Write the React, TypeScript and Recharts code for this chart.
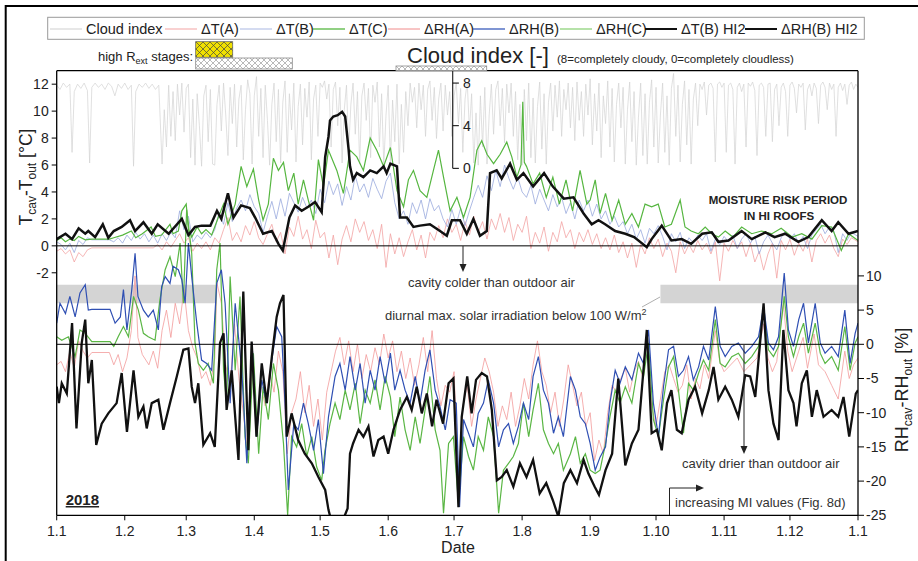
import { LineChart, Line, XAxis, YAxis, ReferenceLine, ReferenceArea } from 'recharts'

type Pt = [number, number]

const FONT = '"Liberation Sans", Arial, Helvetica, sans-serif'

// x axis: day of year 2018, ticks at month starts
const monthStarts = [0, 31, 59, 90, 120, 151, 181, 212, 243, 273, 304, 334, 365]
const monthLabels = ['1.1', '1.2', '1.3', '1.4', '1.5', '1.6', '1.7', '1.8', '1.9', '1.10', '1.11', '1.12', '1.1']
const tTicks = [-2, 0, 2, 4, 6, 8, 10, 12]
const rhTicks = [-25, -20, -15, -10, -5, 0, 5, 10]
const cloudTicks = [0, 4, 8]

// cloud index [-] (own scale, 0..8)
const cloudIndex: Pt[] = [
  [0, 7.8], [1.5, 7.4], [3, 8], [4.5, 7.6], [6, 7.9], [7, 1.5], [8, 7.2], [9.5, 7.9], [11, 7.5], [12.5, 8], [14, 7.3], [15, 0.5], [16, 7.6], [17.5, 8],
  [19, 7.6], [20.5, 7.9], [22, 7.4], [23.5, 8], [25, 7.7], [26.5, 6.8], [28, 7.9], [29.5, 7.5], [31, 8], [32.5, 7.4], [34, 7.8], [35, 0.2], [36, 7.2],
  [37.5, 7.9], [39, 7.6], [40.5, 8], [42, 7.5], [43.5, 7.9], [45, 7.4], [46.5, 7.8], [48, 0.4], [49, 5.5], [50, 2], [51, 7.8], [52, 3], [53, 7.2],
  [54, 2.6], [55, 7.9], [56, 5], [57, 8], [58, 3.4], [59, 7.5], [60, 7.9], [61, 1], [62, 6.5], [63, 0.3], [64, 7], [65, 4], [66, 0.2], [67, 6.8],
  [68, 7.8], [69, 2.5], [70, 7.4], [71, 0.4], [72, 0.3], [73, 6], [74, 7.8], [75, 3.5], [76, 8], [77, 5], [78, 1.2], [79, 7.6], [80, 4.2], [81, 7.9],
  [82, 2], [83, 6.5], [84, 7.8], [85, 0.8], [86, 5.5], [87, 8.3], [88, 7], [89, 0.4], [90, 6.8], [91, 8.6], [92, 3], [93, 7.5], [94, 1], [95, 7.8],
  [96, 4.5], [97, 0.3], [98, 6], [99, 8], [100, 2.5], [101, 7.4], [102, 0.5], [103, 6.2], [104, 8.2], [105, 1.5], [106, 7], [107, 3.6], [108, 8],
  [109, 0.6], [110, 5.8], [111, 7.9], [112, 2.2], [113, 7.5], [114, 4.8], [115, 8.1], [116, 0.8], [117, 6.5], [118, 7.8], [119, 3], [120, 8],
  [121, 7.6], [122, 8.2], [123, 6.5], [124, 7.9], [125, 2], [126, 7.4], [127, 8.1], [128, 4], [129, 7.6], [130, 0.5], [131, 5.5], [132, 7.8],
  [133, 1.8], [134, 6], [135, 8], [136, 3.2], [137, 7.2], [138, 0.4], [139, 6.8], [140, 8], [141, 4.5], [142, 7.5], [143, 1], [144, 7.8], [145, 6.2],
  [146, 8.1], [147, 2], [148, 7], [149, 0.3], [150, 5], [151, 7.8], [152, 0.6], [153, 6.4], [154, 2.5], [155, 7.9], [156, 0.4], [157, 6], [158, 1.5],
  [159, 7.2], [160, 4], [161, 8], [162, 6.2], [163, 7.6], [164, 3.8], [165, 8], [166, 5.5], [167, 7.8], [168, 3], [169, 7.4], [170, 8.2], [171, 4.5],
  [172, 7.6], [173, 2.8], [174, 6.5], [175, 8], [176, 3.5], [177, 7.8], [178, 5], [179, 7.2], [180, 3], [181, 6.8], [182, 8], [183, 4.2], [184, 7.5],
  [185, 1.5], [186, 6.5], [187, 8.1], [188, 3.5], [189, 7], [190, 0.5], [191, 5.2], [192, 0.3], [193, 6.8], [194, 2], [195, 7.6], [196, 0.4], [197, 5],
  [198, 7.9], [199, 3.2], [200, 7.4], [201, 8.2], [202, 4], [203, 7.5], [204, 2.4], [205, 7.9], [206, 5.2], [207, 8], [208, 3], [209, 7.2], [210, 0.8],
  [211, 6], [212, 0.3], [213, 7.4], [214, 2.6], [215, 8], [216, 1], [217, 6.6], [218, 0.5], [219, 5.8], [220, 8.1], [221, 1.8], [222, 7], [223, 0.4],
  [224, 6.2], [225, 8], [226, 3.5], [227, 7.8], [228, 4.8], [229, 8.2], [230, 3], [231, 7.4], [232, 5.5], [233, 8], [234, 3.8], [235, 7.6], [236, 2.6],
  [237, 8.1], [238, 4.5], [239, 7.2], [240, 3], [241, 7.9], [242, 5], [243, 8.4], [244, 2.2], [245, 7], [246, 3.5], [247, 8], [248, 1], [249, 6.8],
  [250, 4.2], [251, 8.2], [252, 2], [253, 7.5], [254, 0.6], [255, 6], [256, 8], [257, 3.8], [258, 7.6], [259, 0.4], [260, 5.5], [261, 8.1], [262, 2.5],
  [263, 7.2], [264, 0.3], [265, 4.8], [266, 8], [267, 1.2], [268, 7], [269, 0.4], [270, 6.2], [271, 8.3], [272, 2], [273, 7.6], [274, 0.5], [275, 5],
  [276, 8], [277, 1.5], [278, 6.8], [279, 0.3], [280, 7.5], [281, 8.9], [282, 3], [283, 7.8], [284, 0.6], [285, 6], [286, 8.2], [287, 2.2], [288, 7.4],
  [289, 0.4], [290, 6.5], [291, 8], [292, 4], [293, 7.9], [294, 7.4], [295, 8.1], [296, 5], [297, 7.8], [298, 8], [299, 7.5], [300, 0.6], [301, 7.9],
  [302, 8.1], [303, 7.6], [304, 8], [305, 1.5], [306, 7.8], [307, 8], [308, 7.4], [309, 0.4], [310, 7.6], [311, 8], [312, 7.2], [313, 7.9], [314, 2],
  [315, 8], [316, 7.7], [317, 8.1], [318, 7.3], [319, 1.2], [320, 7.8], [321, 8], [322, 7.6], [323, 3], [324, 7.9], [325, 8], [326, 2.5], [327, 7.4],
  [328, 7.9], [329, 4], [330, 7.6], [331, 8], [332, 7.2], [333, 3], [334, 7.8], [335, 8.1], [336, 7.5], [337, 5.2], [338, 7.9], [339, 7.6], [340, 8],
  [341, 3.6], [342, 7.4], [343, 7.9], [344, 6.8], [345, 8], [346, 7.5], [347, 4.2], [348, 7.8], [349, 8.1], [350, 7.6], [351, 5.5], [352, 8],
  [353, 7.4], [354, 7.9], [355, 3], [356, 7.6], [357, 8], [358, 7.3], [359, 7.9], [360, 6], [361, 7.8], [362, 8.1], [363, 7.4], [364, 7.9], [365, 7.6],
]

// ΔT(A) [°C]
const dTA: Pt[] = [
  [0, -0.4], [2, -0.2], [4, -0.6], [6, -0.3], [8, -1.2], [10, -0.5], [12, -0.8], [14, -0.3], [16, -0.15], [44, -0.15], [46, 0.1], [48, -0.3],
  [50, 0.3], [52, -0.1], [54, 0.4], [56, 0.9], [58, 0.2], [60, 0.6], [62, -0.4], [64, 0.2], [66, -0.2], [68, 0.3], [70, -0.3], [72, 0.6], [74, 0.2],
  [76, 1.2], [78, 2.1], [80, 0.4], [82, 1], [84, 0.3], [86, 1.5], [88, 0.8], [90, 1.8], [92, 0.6], [94, 0.1], [96, 0.9], [98, 1.6], [100, 0.3],
  [102, 1], [104, -0.6], [106, 1.4], [108, 0.7], [110, 2.2], [112, 0.5], [114, 1.2], [116, -0.2], [118, 1.9], [120, 0.6], [122, 1], [124, -0.9],
  [126, 0.8], [128, -1.4], [130, 0.5], [132, 1.5], [134, 0.3], [136, 2], [138, 1], [140, 1.8], [142, 0.4], [144, 1.2], [146, -0.2], [148, 1.6],
  [150, -1.6], [152, 0.9], [154, -0.6], [156, 0.6], [158, -0.8], [160, 0.3], [162, 1.2], [164, -0.3], [166, 0.8], [168, -0.9], [170, 1], [172, 0.4],
  [174, 1.5], [176, 0.6], [178, 2], [180, 1], [182, 1.6], [184, 0.4], [186, 1.8], [188, 0.8], [190, 2.2], [192, 1], [194, 1.8], [196, 0.5], [198, 2],
  [200, 1.2], [202, 2.4], [204, 1], [206, 2.1], [208, 0.4], [210, 1.6], [212, 1], [214, 2.2], [216, -0.2], [218, 1], [220, 0.2], [222, 1.4],
  [224, -0.4], [226, 1], [228, 0.3], [230, 1.8], [232, 0.6], [234, 1.2], [236, -0.2], [238, 1], [240, 0.3], [242, 1.2], [244, 0.1], [246, 0.9],
  [248, -0.2], [250, 0.6], [252, -0.3], [254, 0.8], [256, -0.5], [258, 0.3], [260, -0.9], [262, 0.2], [264, -1.6], [266, 0.1], [268, -0.6], [270, 0.6],
  [272, -0.2], [274, 0.5], [276, -0.8], [278, 0.2], [280, -0.4], [282, -2], [284, 0.3], [286, -0.6], [288, 0.1], [290, -0.5], [292, 0.4], [294, -0.3],
  [296, 0.2], [298, -0.6], [300, 0.3], [302, -2.6], [304, 0.2], [306, -0.4], [308, 0.4], [310, -0.2], [312, 0.3], [314, -0.8], [316, 0.2], [318, -1.2],
  [320, -0.4], [322, -1.8], [324, -0.6], [326, 0.2], [328, -2.4], [330, 0.4], [332, -0.3], [334, 0.5], [336, -0.7], [338, 0.2], [340, -0.4], [342, 0.5],
  [344, -1.2], [346, 0.4], [348, 0.9], [350, 0.2], [352, 0.8], [354, -0.2], [356, -0.8], [358, 0.5], [360, 0.1], [362, 0.6], [365, 0.3],
]

// ΔT(B) [°C]
const dTB: Pt[] = [
  [0, 0.3], [2, 0.1], [4, -0.3], [6, 0.2], [8, -0.5], [10, 0.4], [12, 0.1], [14, 0.6], [16, 0.45], [24, 0.45], [26, 0.3], [28, 0.6], [30, 0.2],
  [32, 0.8], [34, 0.4], [36, 1], [38, 0.5], [40, 0.9], [42, 0.3], [44, 0.8], [46, 0.2], [48, 0.9], [50, 0.4], [52, 1], [54, 0.6], [56, 2.6], [58, 1.2],
  [60, 2.2], [62, 0.3], [64, 0.8], [66, 0.5], [68, 1], [70, 0.6], [72, 1.2], [74, 2.5], [76, 1.6], [78, 3.2], [80, 1.8], [82, 2.8], [84, 3.4], [86, 2.6],
  [88, 3.8], [90, 2.9], [92, 2.4], [94, 1], [96, 2.2], [98, 3.3], [100, 2], [102, 3.5], [104, 2.2], [106, 3.9], [108, 3.2], [110, 2.5], [112, 3.6],
  [114, 2.8], [116, 3.4], [118, 2.4], [120, 4.2], [122, 3.2], [124, 4.8], [126, 3.8], [128, 4.6], [130, 3], [132, 4.4], [134, 3.4], [136, 5.2], [138, 4],
  [140, 4.6], [142, 3.6], [144, 5], [146, 4.2], [148, 3.5], [150, 4.8], [152, 5.4], [154, 3.2], [156, 2], [158, 2.6], [160, 1.6], [162, 3.2], [164, 2.4],
  [166, 3.4], [168, 2], [170, 3.5], [172, 2.6], [174, 3], [176, 2], [178, 1.4], [180, 2.7], [182, 1.6], [184, 2.8], [186, 1.5], [188, 2.6], [190, 3.6],
  [192, 4.5], [194, 3.6], [196, 5.2], [198, 4.1], [200, 5.6], [202, 4.4], [204, 6], [206, 5], [208, 4.2], [210, 5.1], [212, 4], [214, 3.6], [216, 4.5],
  [218, 3.1], [220, 4.2], [222, 3.4], [224, 2.6], [226, 3.8], [228, 2.9], [230, 3.6], [232, 2.4], [234, 3.2], [236, 2], [238, 3.4], [240, 2.6], [242, 3.4],
  [244, 2.2], [246, 3.1], [248, 2], [250, 2.6], [252, 1.6], [254, 2.2], [256, 1.4], [258, 1.8], [260, 0.9], [262, 1.6], [264, 0.5], [266, 1.2], [268, 0.2],
  [270, 1.3], [272, 0.9], [274, 1.5], [276, 0.7], [278, -0.3], [280, 0.9], [282, 0.3], [284, 1], [286, -0.2], [288, 0.6], [290, 0.2], [292, 0.8],
  [294, 0.4], [296, 0.9], [298, -0.4], [300, 0.5], [302, 0.1], [304, 0.7], [306, 0.3], [308, 0.8], [310, -0.2], [312, 0.5], [314, 0.9], [316, 0.2],
  [318, 0.7], [320, -0.6], [322, 0.3], [324, 0.8], [326, 0.2], [328, -0.3], [330, 0.6], [332, 1.1], [334, 0.5], [336, 0.9], [338, 0.2], [340, 0.7],
  [342, -0.2], [344, 0.8], [346, 1.2], [348, 1.6], [350, 0.9], [352, 1.4], [354, 1.1], [356, -0.5], [358, 0.9], [360, 0.4], [362, 1], [365, 0.7],
]

// ΔT(C) [°C]
const dTC: Pt[] = [
  [0, 0.4], [2, 0.6], [4, 0.3], [6, 0.5], [8, 0.4], [10, 0.7], [13, 0.45], [16, 0.5], [24, 0.5], [26, 0.6], [30, 0.8], [34, 1.1], [36, 0.6], [39, 0.9],
  [43, 1.4], [45, 0.7], [47.8, 0.8], [51.6, 1.6], [53, 0.9], [55.4, 1.1], [57, 2.6], [59, 3.1], [60, 1.2], [61.5, 0.65], [64, 1.4], [66, 0.9], [68, 1.2],
  [70.6, 0.8], [73.6, 2.1], [76, 3.1], [78, 1.6], [81.3, 3.1], [84, 5.9], [86.6, 4.4], [89.6, 5.7], [92, 3.4], [94, 1.9], [96.4, 3.1], [98.7, 6.5],
  [101, 5.6], [103.3, 6.2], [105.5, 4.1], [108, 5.4], [110, 3.1], [112.4, 4.9], [114.6, 3.4], [117, 1.9], [119.2, 6.4], [121.5, 4.4], [123.8, 7.1],
  [127.6, 5.6], [130.6, 3.9], [133.6, 7.1], [136.7, 6.6], [139.7, 5.6], [142.8, 8], [145.8, 7.1], [148.9, 5.9], [152, 7.3], [155, 4.1], [158, 2.9],
  [160.2, 4.9], [162.5, 5.6], [165.5, 4.1], [168.6, 3.6], [171.6, 5.6], [173.9, 7.1], [176.2, 5.1], [179.2, 2.6], [182.3, 3.6], [185.3, 2.1], [188.3, 3.6],
  [191.4, 7.1], [193.6, 7.8], [196, 6.8], [199, 6.1], [202, 6.8], [205, 7.7], [207.3, 6.6], [209.6, 5.1], [211.5, 6], [212.3, 10.7], [213, 6.2],
  [214, 5.9], [217, 4.6], [220, 5.4], [223, 3.6], [226, 5.1], [229, 3.1], [232, 4.9], [235, 2.6], [238.4, 5.6], [241.5, 3.1], [243, 3.4], [245.3, 4.9],
  [247.5, 2.4], [250, 3.9], [253, 1.9], [256, 3.4], [259, 1.6], [262, 2.4], [265, 1.4], [268, 3.1], [271, 2.9], [274, 3.1], [277, 1.4], [280, 1.6],
  [284, 3.4], [286.2, 1.4], [289, 1.1], [292.3, 0.9], [295.4, 1.4], [298.4, 0.9], [301.4, 0.65], [304.5, 1.1], [308, 0.65], [312, 1.4], [316.6, 0.9],
  [321, 1.1], [325.8, 0.9], [330, 1.3], [335, 0.65], [339.4, 0.9], [344, 0.5], [348.5, 1.5], [353, 1.4], [357.4, -0.35], [360.7, 0.9], [365, 0.4],
]

// ΔRH(A) [%]
const dRHA: Pt[] = [
  [0, -3], [2, -2.5], [4, -4], [6, -1], [8, -3.5], [10, 0.5], [12, -1], [14, -2], [16, -1.2], [24, -1.2], [26, -3], [28, -1.5], [30, -4], [32, -2],
  [34, 2], [35.7, 10], [37, 1], [39, -1.5], [42, -3], [44, -1], [46, -3.5], [48, 2], [50, 5], [52, 1], [54, 6], [56, 3], [58, 8], [60, 2], [62, -0.5],
  [64, -2], [66, -5], [68, -4], [70, -6], [72, -2], [73, 9], [75, 6], [77, -3], [79, -6], [81, 3], [83, -5], [85, -10], [87, -16], [89, -3], [91, -12],
  [93, -6], [95, -9], [97, -4], [99, -7], [101, -1], [103, -4], [105, -16], [107, -10], [109, -8], [111, -4], [113, -10], [115, -6], [117, -12],
  [119, -8], [121, -14], [123, -7], [125, -4], [127, -1], [129, 1], [131, -3], [133, 0.5], [135, -4], [137, 0], [139, -5], [141, -1.5], [143, -4],
  [145, -0.5], [147, -3], [149, 1.5], [151, -2], [153, 0.5], [155, -4], [157, -1], [159, -5], [161, -2], [163, -6], [165, -3], [167, 1], [169, -4],
  [171, 2], [173, -5], [175, -9], [177, -6], [179, -7], [181, -4], [183, -20], [185, -9], [187, -6], [189, -12], [191, -8], [193, -5], [195, -2],
  [197, -4], [199, -7], [201, -12], [203, -9], [205, -11], [207, -7], [209, -12], [211, -9], [213, -5], [215, -8], [217, -3], [219, 0.5], [221, -4],
  [223, -6], [225, -10], [227, -7], [229, -12], [231, -8], [233, -3], [235, -6], [237, -9], [239, -7], [241, -12], [243, -10], [245, -17], [247, -14],
  [249, -16], [251, -10], [253, -6], [255, -7], [257, -5], [259, -3.5], [261, -7], [263, -4], [265, -2.5], [267, -5], [269, 1], [271, -9], [273, -12],
  [275, -8], [277, -4], [279, -3], [281, -5], [283, -7], [285, -6], [287, -3], [289, -8], [291, -5], [293, -6.5], [295, -3], [297, -5], [300, 2],
  [302, -2.5], [304, -4], [307, -3], [310, -2], [313, -4], [316, -3], [319, -2], [322, 3], [324, -2], [326, -4], [328, -2.5], [331, 6], [333, -1],
  [335, -4], [338, -1], [340, 1], [342, -3.5], [345, 1.5], [347, -3], [350, -4], [353, -6], [356, -8], [359, -1], [361, -5], [363, -3], [365, -2],
]

// ΔRH(B) [%]
const dRHB: Pt[] = [
  [0, 3.1], [1.5, 6], [4, 4.5], [6, 7], [8.4, 4], [10.6, 7.5], [13, 8.7], [14.4, 5], [16, 5.1], [24.3, 5.1], [26.6, 3.1], [29, 4], [30.4, 8], [32, 2.1],
  [34.2, 8], [35.7, 13.3], [37, 7], [39.5, 5], [41.7, 4], [44, 5], [46.3, 2.1], [47.8, 8.4], [49.4, 9.9], [51.6, 8.9], [53, 11.4], [55.4, 10.9],
  [57, 9.4], [58.5, 6], [60, 14.8], [61.5, 9.9], [63.8, 3.1], [66, -2.3], [68.3, -2.8], [70.6, -3.8], [72.9, 8.9], [75, 10.9], [76.7, 6], [79, -8.6],
  [81.3, 6], [84.3, -3.8], [86.6, -17.4], [89, 0.2], [91, -13.5], [93.4, -5.2], [95.7, -8.6], [98, -2.3], [100.2, 2.6], [102.5, 1.1], [104, -8.6],
  [105.5, -21.3], [108, -11.6], [110, -12.5], [112.4, -8.6], [114.6, -11.6], [117, -15.5], [119.2, -11], [121.5, -18.9], [123.8, -10.6], [126.8, -4.7],
  [129, -2.8], [131.4, -6.7], [133.6, -1.8], [136, -6.7], [138.2, -2.8], [140.5, -8.6], [142.8, -3.8], [145, -6.7], [147.3, -1.8], [149.6, -5.7],
  [152, -1.3], [154, -6.7], [156.4, -3.8], [158.7, -6.7], [161, -8.6], [163.3, -4.7], [165.5, -8.6], [167.8, -3.8], [170, -0.8], [172.4, -6.7],
  [174.6, -9.1], [177, -12.5], [179.2, -8.1], [182, -8.6], [183.5, -23.8], [185.3, -11], [187.6, -13], [189.8, -15], [192, -10.1], [194.4, -8.6],
  [196.6, -5.2], [199, -8.6], [201.3, -15], [203.5, -12.5], [205.8, -11.6], [208, -14.5], [210.3, -12], [212.6, -8.6], [215, -11], [217, -4.7],
  [219.4, -1.8], [221.7, -6.7], [224, -8.6], [226.3, -13], [228.5, -10.6], [230.8, -13.5], [234, -4.7], [236.3, -6.7], [238.5, -10.6], [240.8, -11.6],
  [243, -14.5], [245.3, -18.4], [247.5, -16.5], [250, -15], [252, -8.6], [254.4, -3.8], [256.6, -5.7], [259, -3.3], [262, -5.2], [265, -1.3],
  [267.3, -2.8], [269.6, 2.1], [271.8, -8.6], [274.1, -13.5], [276.4, -6.2], [278.7, -0.8], [281, -0.3], [283.2, -4.7], [285.5, -3.8], [287.8, -1.8],
  [290, -5.2], [292.4, -3.3], [294.6, -0.3], [297, -2.3], [300, 5.5], [302.2, -0.3], [304.5, -1.8], [307.5, -0.3], [310.5, 0.2], [313.6, -1.3],
  [316.6, -0.3], [319.7, 1.1], [322, 5.5], [324.2, 0.2], [326.5, -0.8], [328.8, 1.1], [331.4, 10.4], [333.3, 2.1], [335.6, -0.3], [338, 3.6],
  [340.2, 6], [342.4, 0.2], [345.5, 6], [347.8, 0.2], [350, -1.3], [353, -0.3], [356, -1.8], [359, 5], [361.4, -2.8], [363.7, 1.6], [365, 3.1],
]

// ΔRH(C) [%]
const dRHC: Pt[] = [
  [0, 1.1], [2.3, 0.6], [5.3, 1.1], [8.4, -1.8], [10.6, 2.1], [13, 1.6], [16, 0.4], [24.3, 0.4], [26, -0.3], [28, 1.1], [30.4, 2.6], [32.7, 1.1],
  [35, 7], [37.2, 5], [39.5, 1.6], [41.7, 1.1], [44.8, 0.6], [47, 6.5], [49.4, 10.9], [51.6, 12.8], [54, 9.9], [56.2, 14.8], [57.7, 6], [59.2, 19.7],
  [61.5, 13.3], [63, 0.2], [64.5, -2.8], [66.8, -3.8], [69, -2.8], [71.4, -5.7], [72.9, 10.9], [74.4, 14.8], [76, -3.8], [77.4, -8.6], [79, 9.9],
  [81.3, -3.8], [83.5, 7], [85.8, -13.5], [87.3, -17.4], [89.6, -1.3], [92, -16], [94, -6.2], [96.4, -11], [98.7, -2.8], [101, -6.7], [103.3, -14.5],
  [105.2, -25], [107, -13.5], [109.3, -15], [111.6, -11.6], [113.9, -16.4], [116.2, -13.5], [118.4, -17.9], [120.7, -19.9], [122.2, -15.5],
  [124.5, -11.6], [126.8, -8.6], [129, -11], [131.4, -6.7], [133.6, -9.6], [136, -5.7], [138.2, -11.6], [140.5, -6.7], [142.8, -8.6], [145, -5.2],
  [147.3, -9.6], [149.6, -4.7], [152, -7.7], [154, -13.5], [156.4, -7.7], [158.7, -12.5], [161, -15.5], [163.3, -10.6], [165.5, -14.5], [167.8, -9.6],
  [170, -4.7], [172.4, -12.5], [174.6, -15.5], [176.2, -24.7], [178.5, -14.5], [180.7, -13.5], [183, -23.3], [185.3, -13.5], [187.6, -16.4],
  [189.8, -18.4], [192, -13.5], [194.4, -15.5], [196.6, -10.6], [199, -13.5], [201.3, -24.7], [203.5, -18.4], [205.8, -17.4], [208, -16.4],
  [210.3, -14.5], [212.6, -8.6], [215, -13.5], [217, -9.6], [219.4, -5.7], [221.7, -12.5], [224, -14.5], [226.3, -16], [228.5, -14.5], [230.8, -18.4],
  [234, -16], [236.3, -13.5], [238.5, -17.4], [240.8, -16], [243, -18.4], [245.3, -18.9], [247.5, -18.4], [250, -14.5], [252, -10.6], [254.4, -6.7],
  [256.6, -8.6], [259, -6.2], [262, -8.6], [265, -2.8], [267.3, -4.7], [269.6, 0.2], [271.8, -11], [274.1, -13.5], [276.4, -8.1], [278.7, -3.3],
  [281, -1.8], [283.2, -6.7], [285.5, -13], [287.8, -5.7], [290, -6.7], [292.4, -4.2], [294.6, -2.3], [297, -3.8], [300, 3.6], [302.2, -2.8],
  [304.5, -3.3], [307.5, -1.8], [310.5, -1.3], [313.6, -2.8], [316.6, -1.8], [319.7, -0.3], [322, 5], [324.2, -0.8], [326.5, -1.8], [328.8, -0.3],
  [331.4, 7], [333.3, 1.1], [335.6, -1.8], [338, 1.1], [340.2, 3.1], [342.4, -1.3], [345.5, 3.1], [347.8, -1.3], [350, -2.8], [353, -1.8], [356, -3.8],
  [359, 2.6], [361.4, -3.8], [363.7, 0.2], [365, 1.1],
]

// ΔT(B) HI2 [°C]
const dTBHI2: Pt[] = [
  [0, 0.5], [4, 0.9], [7, 0.5], [10, 1.3], [13, 0.9], [14.4, 1.1], [17.5, 0.65], [21, 1.6], [23.5, 0.6], [26, 1.1], [29.6, 1.4], [33.4, 1.9], [35.7, 1.1],
  [39.5, 1.75], [43.3, 0.9], [46, 1.6], [51, 0.9], [57, 2], [60, 0.8], [63, 1.4], [66, 1.5], [70, 1.5], [73, 2.6], [75, 2], [78, 3.9], [80.5, 2.1],
  [84, 3], [88, 2.8], [90.4, 2.1], [94, 0.9], [98, 1.1], [101, 0.15], [103, -0.35], [106, 2.1], [108.6, 3], [111.6, 2.6], [114.6, 2.9], [117.7, 3.25],
  [120.7, 2.5], [122.3, 6.6], [123.8, 8.1], [124.5, 9.3], [126, 9.6], [128, 9.7], [130, 9.95], [131.4, 9.6], [133, 7.1], [133.6, 5.9], [135, 4.9],
  [136.7, 5.4], [139.7, 5.1], [142.8, 5.6], [145.8, 5.4], [148.9, 5.9], [150.3, 5.4], [152, 6.1], [155, 5.9], [156.4, 2.1], [159.5, 2.1], [162.5, 1.4],
  [165.5, 1.5], [170, 1.6], [174.6, 1.1], [177.7, 0.75], [180, 1.9], [183.7, 1.9], [186.8, 0.9], [189.8, 2], [192.8, 0.75], [195.9, 1.1], [197.4, 5.4],
  [200.4, 5.6], [202.7, 5], [206.5, 6.1], [209.6, 4.9], [212.6, 5.4], [217, 4.4], [222, 5.4], [226, 4.4], [231, 3.5], [235.4, 3.6], [240, 2.4],
  [243.7, 1.6], [246.8, 1.9], [249.8, 1.6], [254.4, 1.1], [259, 0.9], [263, 0.65], [268.8, -0.1], [271, 0.5], [275.6, 1.5], [280, 0.4], [284.7, 0.5],
  [289, 0.15], [294, 0.9], [298.4, 1], [301.4, 0.3], [306, 0.4], [312, 1.1], [316.6, 0.5], [322.8, 1], [327, 0.65], [331.8, 0.9], [337.8, 0.3],
  [342.4, 0.65], [348.5, 1.9], [353, 1.1], [356, 1.75], [360.7, 0.9], [365, 1.1],
]

// ΔRH(B) HI2 [%]
const dRHBHI2: Pt[] = [
  [0, -6.2], [1, -8.6], [2.3, -5.7], [4.6, -7.2], [7, 3.1], [9, -12.3], [11.4, 0.2], [13, 3.6], [14.4, -5.7], [16, -2.3], [18, -14.7], [20.5, -11.6],
  [23.5, -10.1], [27.3, -8.6], [29.6, -4.2], [32, -12.8], [35, -3.8], [37.2, -10.6], [39.5, -9.1], [41, -12.3], [43.3, -8.6], [46.3, -8.1],
  [48.6, -12.5], [51.6, -8.6], [54.7, -4.7], [57.7, -0.8], [60, -0.6], [61.5, -6.2], [63, -8.6], [64.5, -5.7], [66.8, -14.7], [69.9, -13],
  [72, -15], [74.4, 0.2], [76, 1.6], [77.4, -9.6], [79.7, -3.8], [82.8, -16.9], [85, 7.7], [87.3, -15.5], [88.8, 0.4], [91, -13.5], [93.4, -2.8],
  [95.7, -8.6], [98, -1.8], [100.2, 4], [101.7, 6], [103.3, 7.2], [104.8, -13.5], [107, -10.1], [110, -14], [113, -16], [116.2, -17.4], [119.2, -19.4],
  [122.3, -21.3], [123.8, -24.2], [126, -27], [130, -26], [132.5, -24], [133.6, -16], [135, -14.5], [137.5, -12.5], [139.7, -13.5], [142, -12],
  [144.3, -16.4], [146.5, -14], [148.9, -13.5], [151, -16], [153.4, -12.5], [156.4, -9.6], [159.5, -7.7], [161.7, -9.6], [164, -6.2], [166.3, -10.1],
  [168.6, -7.2], [171, -12], [173, -8.1], [176, -11.6], [178.5, -5.7], [180.7, -5], [183, -23.8], [184.5, -10.6], [187, -4.7], [189, -10.1],
  [191, -5.2], [193.6, -4.2], [196, -4.7], [198.2, -9.6], [200.5, -19.9], [202.7, -19.4], [205, -18.4], [208, -20.8], [211, -17.4], [214, -19.4],
  [217, -16.9], [220, -21.8], [223, -20.3], [226, -22.8], [228.5, -25.2], [231, -20.3], [234, -18.4], [237, -20.3], [240, -16.9], [242.2, -18.9],
  [245, -20.8], [247, -22], [250, -18.4], [253, -16], [255.8, -5], [259, -17.7], [262, -14.5], [265, -12.5], [268.8, 2.1], [271, -13], [273.4, -12.5],
  [275.6, -15.5], [278, -8.6], [280, -6.7], [282.5, -12.5], [284.7, -13], [287.8, -8.1], [290.8, -6.2], [294, -10.1], [297, -6.7], [299.2, -3.3],
  [301.4, -8.1], [304.5, -6.2], [307.5, -8.1], [310.5, -10.6], [313.6, -4.5], [315.9, -4.7], [318.2, -7.7], [322, 6], [324.2, -6.7], [326.5, -11.6],
  [328.8, -14], [331, 2.1], [333.3, -6.7], [335.6, -8.6], [337, -12], [339.4, -5.7], [341.7, -3.8], [344, -10.6], [346.2, -6.7], [349.3, -10.6],
  [353, -9.6], [356, -10.6], [358.4, -7.7], [361, -13.5], [364, -7.2], [365, -6.7],
]

const rows = (pts: Pt[]) => pts.map(([day, v]) => ({ day, v }))

const legendItems = [
  { label: 'Cloud index', color: '#cfcfcf', w: 1 },
  { label: 'ΔT(A)', color: '#f3a3a3', w: 1 },
  { label: 'ΔT(B)', color: '#a9b7e2', w: 1 },
  { label: 'ΔT(C)', color: '#56b640', w: 1.3 },
  { label: 'ΔRH(A)', color: '#f08a8a', w: 1 },
  { label: 'ΔRH(B)', color: '#3a5cbc', w: 1.3 },
  { label: 'ΔRH(C)', color: '#8fd27a', w: 1.3 },
  { label: 'ΔT(B) HI2', color: '#111', w: 2 },
  { label: 'ΔRH(B) HI2', color: '#111', w: 2 },
]
const legendX = [50, 165, 240, 313, 388, 473, 560, 645, 745]

const lineProps = { type: 'linear' as const, dataKey: 'v', dot: false, activeDot: false, isAnimationActive: false }
const tickStyle = { fill: '#222', fontSize: 14, fontFamily: FONT }

function Arrow({ x, y, dir }: { x: number; y: number; dir: 'down' | 'right' }) {
  const p = dir === 'down'
    ? `${x - 3.5},${y - 8} ${x + 3.5},${y - 8} ${x},${y}`
    : `${x - 8},${y - 3.5} ${x - 8},${y + 3.5} ${x},${y}`
  return <polygon points={p} fill="#222" />
}

function Overlay() {
  return (
    <svg width={918} height={561} style={{ position: 'absolute', left: 0, top: 0, pointerEvents: 'none' }} fontFamily={FONT}>
      <defs>
        <pattern id="hatchY" width="7" height="7" patternUnits="userSpaceOnUse">
          <path d="M0,0 L7,7 M7,0 L0,7" stroke="#444" strokeWidth="0.7" />
        </pattern>
        <pattern id="hatchG" width="6" height="6" patternUnits="userSpaceOnUse">
          <path d="M0,0 L6,6 M6,0 L0,6" stroke="#8a8a8a" strokeWidth="0.6" />
        </pattern>
      </defs>
      {/* outer frame */}
      <path d="M5.7,561 L5.7,6 L918,6" fill="none" stroke="#000" strokeWidth={2} />

      {/* legend */}
      <rect x={47.7} y={17.3} width={816.6} height={22} fill="#fff" stroke="#9a9a9a" strokeWidth={1} />
      {legendItems.map((it, i) => (
        <g key={it.label}>
          <line x1={legendX[i]} x2={legendX[i] + 32} y1={29} y2={29} stroke={it.color} strokeWidth={it.w} />
          <text x={legendX[i] + 36} y={34} fontSize={14.5} fill="#222">{it.label}</text>
        </g>
      ))}

      {/* high Rext stages */}
      <text x={98} y={61} fontSize={13} fill="#222">
        high R<tspan fontSize={9} dy={3}>ext</tspan><tspan dy={-3}> stages:</tspan>
      </text>
      <rect x={195.7} y={41.7} width={37} height={15.6} fill="#f0e000" />
      <rect x={195.7} y={41.7} width={37} height={15.6} fill="url(#hatchY)" stroke="#666" strokeWidth={0.8} />
      <rect x={195.7} y={58} width={96.6} height={11} fill="#fff" />
      <rect x={195.7} y={58} width={96.6} height={11} fill="url(#hatchG)" stroke="#8a8a8a" strokeWidth={0.8} />
      <rect x={396} y={66} width={90.7} height={4.7} fill="#fff" />
      <rect x={396} y={66} width={90.7} height={4.7} fill="url(#hatchG)" stroke="#8a8a8a" strokeWidth={0.8} />

      <text x={407} y={63} fontSize={22} fill="#222">Cloud index [-]</text>
      <text x={557} y={63} fontSize={11.5} fill="#222">(8=completely cloudy, 0=completely cloudless)</text>

      {/* axis titles */}
      <text transform="translate(32,177) rotate(-90)" textAnchor="middle" fontSize={17.5} fill="#222">
        T<tspan fontSize={12} dy={4}>cav</tspan><tspan dy={-4}>-T</tspan><tspan fontSize={12} dy={4}>out</tspan><tspan dy={-4}> [°C]</tspan>
      </text>
      <text transform="translate(908,390) rotate(-90)" textAnchor="middle" fontSize={18} fill="#222">
        RH<tspan fontSize={12} dy={4}>cav</tspan><tspan dy={-4}>-RH</tspan><tspan fontSize={12} dy={4}>out</tspan><tspan dy={-4}> [%]</tspan>
      </text>
      <text x={458} y={553} textAnchor="middle" fontSize={16} fill="#222">Date</text>

      {/* annotations */}
      <text x={778} y={204} textAnchor="middle" fontSize={11.5} fontWeight="bold" fill="#222">MOISTURE RISK PERIOD</text>
      <text x={779} y={220} textAnchor="middle" fontSize={11.5} fontWeight="bold" fill="#222">IN HI ROOFS</text>

      <line x1={463} y1={246} x2={463} y2={266} stroke="#222" strokeWidth={1} />
      <Arrow x={463} y={272} dir="down" />
      <text x={408} y={287} fontSize={13} fill="#333">cavity colder than outdoor air</text>

      <text x={385} y={320} fontSize={13} fill="#333">
        diurnal max. solar irradiation below 100 W/m<tspan fontSize={9} dy={-5}>2</tspan>
      </text>
      <line x1={642} y1={307} x2={660} y2={297} stroke="#999" strokeWidth={0.8} />

      <line x1={744} y1={345} x2={744} y2={448} stroke="#222" strokeWidth={1} />
      <Arrow x={744} y={454} dir="down" />
      <text x={682} y={468} fontSize={13} fill="#333">cavity drier than outdoor air</text>

      <path d="M669.5,515 L669.5,488 L697,488" fill="none" stroke="#222" strokeWidth={1} />
      <Arrow x={704} y={488} dir="right" />
      <text x={675} y={507} fontSize={13} fill="#333">increasing MI values (Fig. 8d)</text>

      <text x={65.7} y={505} fontSize={15} fontWeight="bold" fill="#222" textDecoration="underline">2018</text>
    </svg>
  )
}

export default function App() {
  return (
    <div style={{ position: 'absolute', left: 0, top: 0, width: 918, height: 561, background: '#fff', overflow: 'hidden', fontFamily: FONT }}>
      <LineChart width={918} height={561} margin={{ top: 70.7, right: 15, bottom: 15.7, left: 16.7 }}>
        <XAxis
          type="number"
          dataKey="day"
          domain={[0, 365]}
          ticks={monthStarts}
          interval={0}
          allowDataOverflow
          tickFormatter={(v: number) => monthLabels[monthStarts.indexOf(v)]}
          height={30}
          tickSize={5}
          tickMargin={6}
          stroke="#000"
          axisLine={{ stroke: '#000', strokeWidth: 1.3 }}
          tick={tickStyle}
        />
        <YAxis
          yAxisId="t"
          orientation="left"
          domain={[-20, 13]}
          ticks={tTicks}
          interval={0}
          allowDataOverflow
          width={40}
          tickSize={5}
          tickMargin={3}
          stroke="#000"
          axisLine={{ stroke: '#000', strokeWidth: 1.3 }}
          tick={tickStyle}
        />
        <YAxis
          yAxisId="rh"
          orientation="right"
          domain={[-25, 40]}
          ticks={rhTicks}
          interval={0}
          allowDataOverflow
          width={45}
          tickSize={6}
          tickMargin={2}
          stroke="#000"
          axisLine={{ stroke: '#000', strokeWidth: 1.3 }}
          tick={tickStyle}
        />
        <YAxis yAxisId="cloud" orientation="right" hide width={0} domain={[-32.55, 9.16]} allowDataOverflow />

        <ReferenceArea yAxisId="rh" x1={0} x2={72.8} y1={6} y2={8.7} fill="#d4d4d4" fillOpacity={1} stroke="none" />
        <ReferenceArea yAxisId="rh" x1={275} x2={365} y1={6} y2={8.7} fill="#d4d4d4" fillOpacity={1} stroke="none" />

        <Line {...lineProps} yAxisId="cloud" data={rows(cloudIndex)} stroke="#d2d2d2" strokeWidth={0.7} />
        <Line {...lineProps} yAxisId="t" data={rows(dTA)} stroke="#f3a3a3" strokeWidth={0.8} />
        <Line {...lineProps} yAxisId="t" data={rows(dTB)} stroke="#99a9dd" strokeWidth={0.8} />
        <Line {...lineProps} yAxisId="t" data={rows(dTC)} stroke="#56b640" strokeWidth={1.2} />
        <Line {...lineProps} yAxisId="rh" data={rows(dRHA)} stroke="#f29a9a" strokeWidth={0.8} />
        <Line {...lineProps} yAxisId="rh" data={rows(dRHC)} stroke="#5ab644" strokeWidth={1.2} />
        <Line {...lineProps} yAxisId="rh" data={rows(dRHB)} stroke="#2f4fb3" strokeWidth={1.2} />
        <Line {...lineProps} yAxisId="t" data={rows(dTBHI2)} stroke="#111" strokeWidth={2.5} />
        <Line {...lineProps} yAxisId="rh" data={rows(dRHBHI2)} stroke="#111" strokeWidth={2.3} />

        <ReferenceLine yAxisId="t" y={0} stroke="#000" strokeWidth={1} />
        <ReferenceLine yAxisId="rh" y={0} stroke="#000" strokeWidth={1} />
        <ReferenceLine yAxisId="t" y={13} stroke="#000" strokeWidth={1.3} />

        <ReferenceLine yAxisId="cloud" segment={[{ x: 180.4, y: 0 }, { x: 180.4, y: 9.16 }]} stroke="#000" strokeWidth={1} />
        {cloudTicks.map((c) => (
          <ReferenceLine
            key={c}
            yAxisId="cloud"
            segment={[{ x: 180.4, y: c }, { x: 183.2, y: c }]}
            stroke="#000"
            strokeWidth={1}
            label={{ value: String(c), position: 'right', offset: 4, fill: '#222', fontSize: 14, fontFamily: FONT }}
          />
        ))}
      </LineChart>
      <Overlay />
    </div>
  )
}
